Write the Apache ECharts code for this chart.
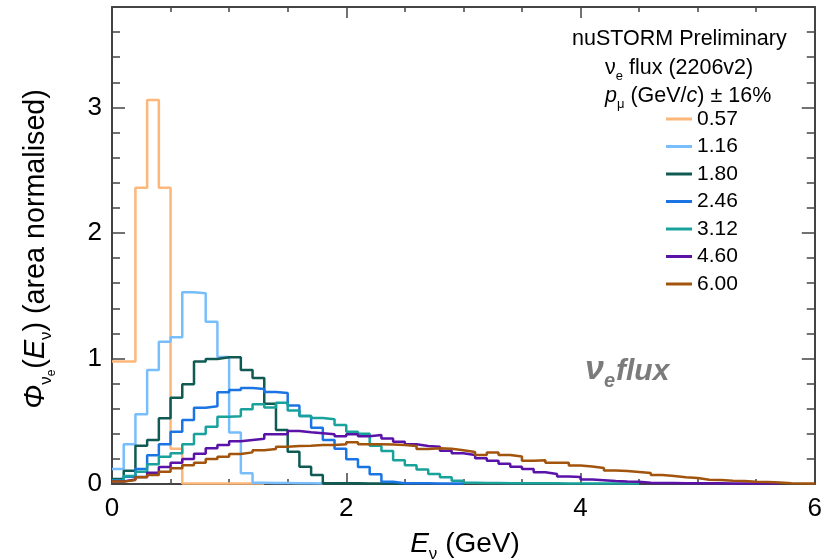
<!DOCTYPE html>
<html><head><meta charset="utf-8">
<script src="https://cdn.jsdelivr.net/npm/echarts@6/dist/echarts.min.js"></script>
<style>html,body{margin:0;padding:0;background:#fff}#c{width:825px;height:560px}</style>
</head><body><div id="c"></div>
<script>
// ---- data (bin width 0.1 GeV, values per bin starting at E = 0) ----
const binWidth = 0.1;
const seriesNames = ['0.57','1.16','1.80','2.46','3.12','4.60','6.00'];
const seriesColors = ['#fdb77a','#78befc','#0f5a52','#1b74e4','#18a29b','#5a12a8','#a2540c'];
const flux057 = [0.975,0.975,2.36,3.06,2.36,0.28,0.004,0.004,0.004,0.004,0.004,0.004,0.004];
const flux116 = [0.12,0.316,0.555,0.908,1.134,1.169,1.527,1.52,1.293,1.012,0.41,0.085,0.01,0.008,0.007,0.006,0.005,0.004];
const flux180 = [0.04,0.106,0.305,0.35,0.523,0.688,0.794,0.975,0.996,1.009,1.009,0.908,0.845,0.64,0.43,0.257,0.138,0.072,0.006,0.005,0.005,0.004,0.004,0.004,0.004];
const flux246 = [0.03,0.058,0.12,0.23,0.316,0.417,0.51,0.608,0.62,0.731,0.749,0.765,0.757,0.733,0.725,0.625,0.542,0.449,0.35,0.28,0.197,0.135,0.078,0.018,0.006,0.005,0.005,0.004,0.004,0.004];
const flux312 = [0.025,0.064,0.098,0.157,0.218,0.244,0.316,0.398,0.457,0.536,0.54,0.595,0.635,0.61,0.648,0.585,0.542,0.525,0.515,0.47,0.417,0.40,0.305,0.262,0.19,0.15,0.115,0.08,0.053,0.026,
  0.01,0.008,0.007,0.006,0.006,0.005,0.005,0.005,0.004,0.004,0.004,0.004,0.003,0.003,0.003];
const flux460 = [0.02,0.035,0.055,0.09,0.135,0.17,0.2,0.24,0.285,0.31,0.34,0.35,0.36,0.396,0.396,0.422,0.412,0.404,0.396,0.38,0.396,0.38,0.39,0.362,0.337,0.316,0.303,0.297,0.265,0.245,0.231,0.205,0.186,0.162,0.138,0.12,0.093,0.08,0.06,0.056,0.035,0.03,0.024,0.02,0.018,
  0.01,0.008,0.007,0.006,0.006,0.005,0.005,0.004,0.004,0.004,0.003,0.003];
const flux600 = [0.019,0.032,0.053,0.072,0.098,0.125,0.15,0.17,0.2,0.218,0.239,0.252,0.268,0.279,0.297,0.303,0.305,0.31,0.31,0.316,0.332,0.316,0.316,0.314,0.31,0.303,0.278,0.284,0.28,0.268,0.255,0.231,0.25,0.231,0.22,0.185,0.19,0.17,0.17,0.148,0.14,0.127,0.108,0.104,0.096,0.088,0.072,0.064,0.053,0.047,0.034,0.032,0.026,0.024,0.018,0.015,0.012,0.006,0.004,0.003];
const allFlux = [flux057,flux116,flux180,flux246,flux312,flux460,flux600];
const xMin = 0, xMax = 6, xMajor = 2, xMinorSplit = 4;
const yMin = 0, yMax = 3.8, yMajor = 1, yMinor = 0.2;

// ---- helpers ----
const fam = '"Liberation Sans", Arial, Helvetica, sans-serif';
const ctx = document.createElement('canvas').getContext('2d');
function fontStr(p){ return (p.i?'italic ':'normal ')+(p.b?'bold ':'normal ')+p.s+'px '+fam; }
function tw(p){ ctx.font = fontStr(p); return ctx.measureText(p.t).width; }
function run(parts, x0, base, anchor, fill){
  const w = parts.map(tw);
  const total = w.reduce((a,b)=>a+b,0) + parts.reduce((a,p)=>a+(p.gap||0),0);
  let x = anchor==='center' ? x0-total/2 : x0;
  return parts.map((p,k)=>{
    const el = {type:'text', silent:true, style:{text:p.t, x:x, y:base+(p.dy||0)-0.35*p.s, font:fontStr(p),
      fill:fill||'#000', align:'left', verticalAlign:'middle', textAlign:'left', textVerticalAlign:'middle'}};
    x += w[k] + (p.gap||0);
    return el;
  });
}
function histData(vals){
  const d = vals.map((v,i)=>[+(i*binWidth).toFixed(2), v]);
  d.push([+(vals.length*binWidth).toFixed(2), vals[vals.length-1]]);
  return d;
}

const axisColor = '#444';
const tickStyle = {color:axisColor, width:1.5};
const lineStyleAxis = {color:axisColor, width:2};
function xAx(pos, labels){
  return {type:'value', min:xMin, max:xMax, interval:xMajor, position:pos,
    axisLine:{show:true, onZero:false, lineStyle:lineStyleAxis},
    axisTick:{show:true, inside:true, length:11, lineStyle:tickStyle},
    minorTick:{show:true, splitNumber:xMinorSplit, length:5, lineStyle:tickStyle},
    splitLine:{show:false}, minorSplitLine:{show:false},
    axisLabel:{show:labels, fontSize:26, color:'#000', margin:12, fontFamily:fam}};
}
function yAx(pos, labels, interval, len, line){
  return {type:'value', min:yMin, max:yMax, interval:interval, position:pos,
    axisLine:{show:line, onZero:false, lineStyle:lineStyleAxis},
    axisTick:{show:true, inside:true, length:len, lineStyle:tickStyle},
    splitLine:{show:false},
    axisLabel:{show:labels, showMaxLabel:false, fontSize:26, color:'#000', margin:10, fontFamily:fam}};
}

const series = seriesNames.map((n,k)=>({
  name:n, type:'line', step:'end', symbol:'none', showSymbol:false,
  xAxisIndex:0, yAxisIndex:0, data:histData(allFlux[k]),
  itemStyle:{color:seriesColors[k]}, lineStyle:{color:seriesColors[k], width:2.5}, z:2+k
}));

const graphics = [].concat(
  run([{t:'nuSTORM Preliminary', s:21.5}], 572, 47, 'left'),
  run([{t:'ν', s:21.5},{t:'e', s:13, dy:5},{t:' flux (2206v2)', s:21.5}], 605, 76, 'left'),
  run([{t:'p', s:21.5, i:true},{t:'μ', s:13, dy:5},{t:' (GeV/', s:21.5},{t:'c', s:21.5, i:true},{t:') ± 16%', s:21.5}], 605, 104, 'left'),
  run([{t:'ν', s:34, i:true, b:true},{t:'e', s:20, i:true, b:true, dy:6, gap:1},{t:'flux', s:30, i:true, b:true}], 585, 382, 'left', '#7b7b7b'),
  run([{t:'E', s:28, i:true},{t:'ν', s:17, dy:6},{t:' (GeV)', s:28}], 465, 554, 'center')
);
graphics.push({type:'group', x:36, y:249, rotation:Math.PI/2, silent:true,
  children: run([{t:'Φ', s:28.7, i:true},{t:'ν', s:17, dy:6},{t:'e', s:12, dy:10, gap:1},{t:'(', s:28.7},{t:'E', s:28.7, i:true},{t:'ν', s:17, dy:6},{t:')', s:28.7},{t:' (area normalised)', s:28.7}], 0, 10, 'center')});

const chart = echarts.init(document.getElementById('c'), null, {renderer:'canvas'});
chart.setOption({
  animation:false,
  backgroundColor:'#fff',
  grid:{left:112, right:7, top:7, bottom:76, containLabel:false},
  xAxis:[xAx('bottom', true), xAx('top', false)],
  yAxis:[yAx('left', true, yMajor, 13, true), yAx('left', false, yMinor, 8, false),
         yAx('right', false, yMajor, 13, true), yAx('right', false, yMinor, 8, false)],
  legend:{orient:'vertical', left:661, top:103.5, itemWidth:26, itemHeight:3, itemGap:6.5, icon:'rect',
    textStyle:{fontSize:21, lineHeight:21, color:'#000', fontFamily:fam}, data:seriesNames, selectedMode:false},
  series:series,
  graphic:graphics
});
</script></body></html>
